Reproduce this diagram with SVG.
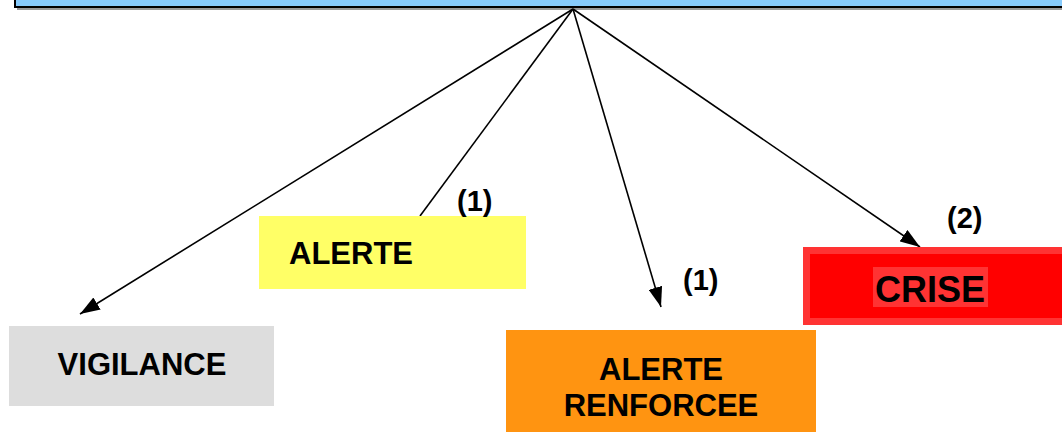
<svg xmlns="http://www.w3.org/2000/svg" width="1062" height="432" viewBox="0 0 1062 432">
<style>
.lbl{font-family:"Liberation Sans",Arial,sans-serif;font-weight:bold;fill:#000}
.conn line{stroke:#000;stroke-width:1.6}
</style>
<defs>
<marker id="arr" viewBox="0 0 20 14" refX="20" refY="7" markerWidth="20" markerHeight="14" markerUnits="userSpaceOnUse" orient="auto">
<path d="M0,0 L20,7 L0,14 z" fill="#000"/>
</marker>
</defs>
<rect x="0" y="0" width="1062" height="432" fill="#fff"/>
<g id="top">
<rect x="17" y="-10" width="1060" height="20" fill="#9a9a9a"/>
<rect x="15" y="-10" width="1060" height="17" fill="#87CBFC" stroke="#000" stroke-width="2"/>
</g>
<g id="connectors" class="conn">
<line x1="573" y1="9" x2="80" y2="314" marker-end="url(#arr)"/>
<line x1="573" y1="9" x2="420" y2="216"/>
<line x1="573" y1="9" x2="661" y2="307" marker-end="url(#arr)"/>
<line x1="573" y1="9" x2="920" y2="247" marker-end="url(#arr)"/>
</g>
<g id="vigilance">
<rect x="9" y="326" width="265" height="80" fill="#DDDDDD"/>
<text class="lbl" x="142" y="375" font-size="31" text-anchor="middle">VIGILANCE</text>
</g>
<g id="alerte">
<rect x="259" y="216" width="267" height="73" fill="#FFFF66"/>
<text class="lbl" x="289" y="264" font-size="31">ALERTE</text>
<text class="lbl" x="457" y="211" font-size="29">(1)</text>
</g>
<g id="alerte-renforcee">
<rect x="506" y="330" width="310" height="102" fill="#FF9411"/>
<text class="lbl" x="661" y="380" font-size="31" text-anchor="middle">ALERTE</text>
<text class="lbl" x="661" y="416" font-size="31" text-anchor="middle">RENFORCEE</text>
<text class="lbl" x="683" y="290" font-size="29">(1)</text>
</g>
<g id="crise">
<rect x="803" y="247" width="270" height="78" fill="#FF3333"/>
<rect x="810" y="254" width="260" height="64" fill="#FF0000"/>
<rect x="873" y="267" width="115" height="40" fill="#FF3333"/>
<text class="lbl" x="930" y="302" font-size="36" text-anchor="middle">CRISE</text>
<text class="lbl" x="947" y="228" font-size="29">(2)</text>
</g>
</svg>
